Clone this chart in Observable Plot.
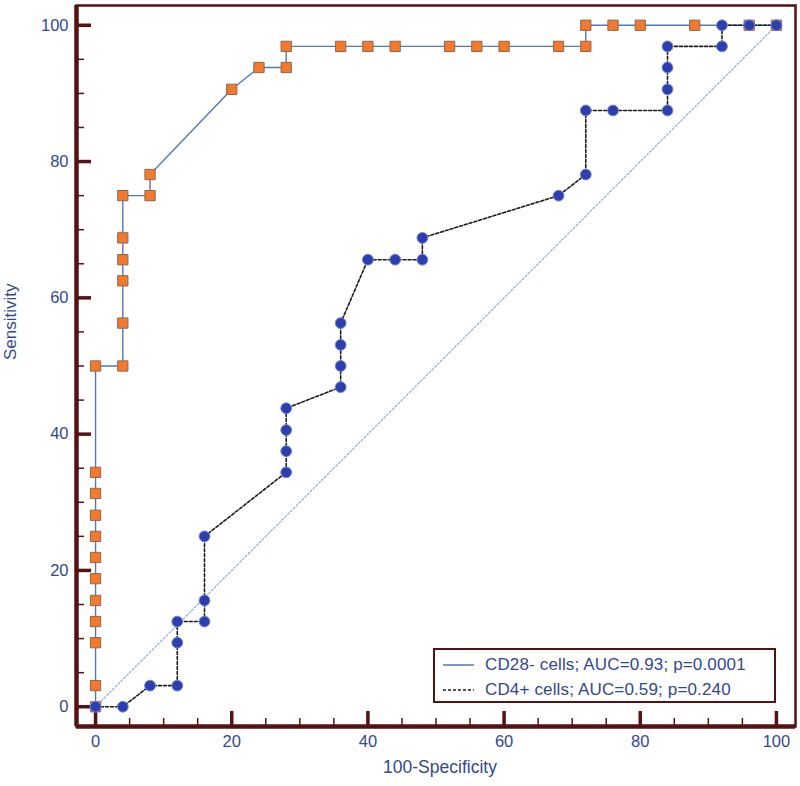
<!DOCTYPE html>
<html>
<head>
<meta charset="utf-8">
<script src="https://cdn.jsdelivr.net/npm/d3@7"></script>
<script src="https://cdn.jsdelivr.net/npm/@observablehq/plot@0.6"></script>
<style>
  body { margin: 0; background: #fff; }
  #wrap { position: relative; width: 800px; height: 786px; font-family: "Liberation Sans", Arial, sans-serif; }
  #legend { position: absolute; left: 433px; top: 648px; width: 339px; height: 51px; border: 2.5px solid #561212; background: #fff; }
  .row { position: absolute; left: 0; height: 24px; display: flex; align-items: center; }
  .row span { font-size: 17px; color: #33488e; margin-left: 11px; letter-spacing: 0.15px; }
  .row svg { margin-left: 8px; }
</style>
</head>
<body>
<div id="wrap"></div>
<script>
// ---- data ----
const cd28X = [0,0,0,0,0,0,0,0,0,0,0,0,4,4,4,4,4,4,8,8,20,24,28,28,36,40,44,52,56,60,68,72,72,76,80,88,96,100];
const cd28Y = [0,3.1,9.4,12.5,15.6,18.8,21.9,25,28.1,31.3,34.4,50,50,56.3,62.5,65.6,68.8,75,75,78.1,90.6,93.8,93.8,96.9,96.9,96.9,96.9,96.9,96.9,96.9,96.9,96.9,100,100,100,100,100,100];
const cd4X = [0,4,8,12,12,12,16,16,16,28,28,28,28,36,36,36,36,40,44,48,48,68,72,72,76,84,84,84,84,92,92,96,100];
const cd4Y = [0,0,3.1,3.1,9.4,12.5,12.5,15.6,25,34.4,37.5,40.6,43.8,46.9,50,53.1,56.3,65.6,65.6,65.6,68.8,75,78.1,87.5,87.5,87.5,90.6,93.8,96.9,96.9,100,100,100];
const diagonal = [0, 100];
const majorTicks = [0, 20, 40, 60, 80, 100];
const minorTicks = [5,10,15,25,30,35,45,50,55,65,70,75,85,90,95];
const xDomain = [-2.8, 102.8];
const yDomain = [-2.9, 102.9];
const legendLabels = ["CD28- cells; AUC=0.93; p=0.0001", "CD4+ cells; AUC=0.59; p=0.240"];

const cd28 = cd28X.map((x, i) => ({x, y: cd28Y[i]}));
const cd4 = cd4X.map((x, i) => ({x, y: cd4Y[i]}));

const W = 800, H = 786, mL = 76, mR = 5, mT = 5, mB = 60;
const fw = W - mL - mR, fh = H - mT - mB;
const axisColor = "#561212";
const navy = "#33488e";

const chart = Plot.plot({
  width: W, height: H,
  marginLeft: mL, marginRight: mR, marginTop: mT, marginBottom: mB,
  style: {fontFamily: '"Liberation Sans", Arial, sans-serif', color: navy, background: "#fff", overflow: "visible"},
  x: {domain: xDomain},
  y: {domain: yDomain},
  marks: [
    Plot.frame({stroke: axisColor, strokeWidth: 2.5}),
    Plot.ruleX([xDomain[0]], {stroke: axisColor, strokeWidth: 4.5}),
    Plot.ruleY([yDomain[0]], {stroke: axisColor, strokeWidth: 4.5}),
    // inward ticks
    Plot.ruleX(majorTicks, {x: d => d, insetTop: fh - 15, stroke: axisColor, strokeWidth: 3.5}),
    Plot.ruleX(minorTicks, {x: d => d, insetTop: fh - 8, stroke: axisColor, strokeWidth: 1.5}),
    Plot.ruleY(majorTicks, {y: d => d, insetRight: fw - 15, stroke: axisColor, strokeWidth: 3.5}),
    Plot.ruleY(minorTicks, {y: d => d, insetRight: fw - 8, stroke: axisColor, strokeWidth: 1.5}),
    Plot.axisX(majorTicks, {tickSize: 0, tickPadding: 9, fontSize: 16.5, label: null, fill: navy}),
    Plot.axisY(majorTicks, {tickSize: 0, tickPadding: 8, fontSize: 16.5, label: null, fill: navy}),
    Plot.text(["100-Specificity"], {frameAnchor: "bottom", dy: 46, dx: 4, fontSize: 17.5, fill: navy}),
    Plot.text(["Sensitivity"], {frameAnchor: "left", dx: -66, dy: -6, rotate: -90, fontSize: 17, fill: navy}),
    // diagonal reference
    Plot.line(diagonal, {x: d => d, y: d => d, stroke: "#92acd6", strokeWidth: 1.2, strokeDasharray: "2,2"}),
    // curves
    Plot.line(cd28, {x: "x", y: "y", stroke: "#5479ae", strokeWidth: 1.4}),
    Plot.line(cd4, {x: "x", y: "y", stroke: "#1c1c1c", strokeWidth: 1.6, strokeDasharray: "3,2"}),
    Plot.dot(cd28, {x: "x", y: "y", symbol: "square", r: 5.8, fill: "#f4792a", stroke: "#8c6656", strokeWidth: 1}),
    Plot.dot(cd4, {x: "x", y: "y", symbol: "circle", r: 5.4, fill: "#2b3fae", stroke: "#7384d4", strokeWidth: 1})
  ]
});

const wrap = document.getElementById("wrap");
wrap.appendChild(chart);

const legend = document.createElement("div");
legend.id = "legend";
const styles = [{dash: null, color: "#5479ae"}, {dash: "3,2", color: "#1c1c1c"}];
legendLabels.forEach((lab, i) => {
  const row = document.createElement("div");
  row.className = "row";
  row.style.top = (3 + i * 25) + "px";
  const s = d3.create("svg").attr("width", 31).attr("height", 10);
  s.append("line").attr("x1", 0).attr("x2", 31).attr("y1", 5).attr("y2", 5)
    .attr("stroke", styles[i].color).attr("stroke-width", 1.5)
    .attr("stroke-dasharray", styles[i].dash);
  row.appendChild(s.node());
  const t = document.createElement("span");
  t.textContent = lab;
  row.appendChild(t);
  legend.appendChild(row);
});
wrap.appendChild(legend);
</script>
</body>
</html>
